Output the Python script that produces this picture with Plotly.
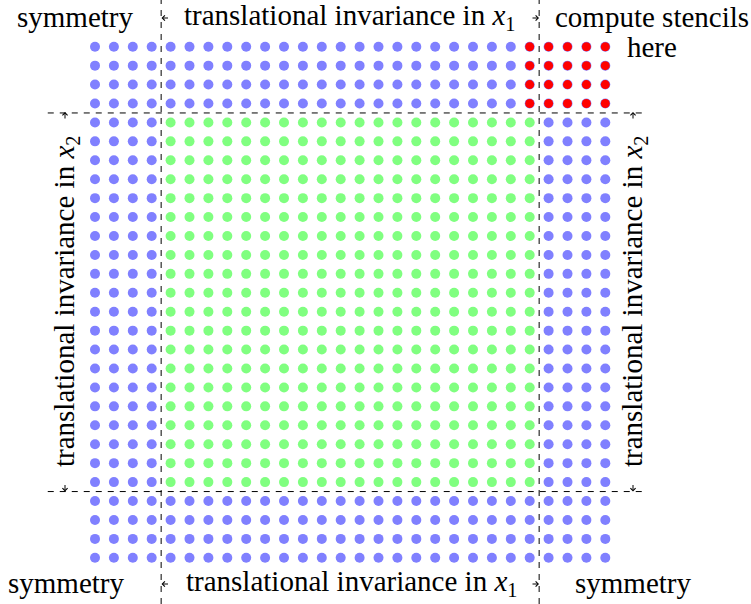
import plotly.graph_objects as go

# ---- grid description ----
n_cols = 28
n_rows = 28
inner_col_start = 4      # first column of translational-invariance (green) block
inner_col_end = 24       # one past the last green column
inner_row_start = 4
inner_row_end = 24
red_cols = [23, 24, 25, 26, 27]
red_rows = [0, 1, 2, 3]

blue_color = "#8080FF"
green_color = "#80FF80"
red_color = "#FF0000"

# labels
lab_sym = "symmetry"
lab_ti_x1 = "translational invariance in <i>x</i><sub>1</sub>"
lab_ti_x2 = "translational invariance in <i>x</i><sub>2</sub>"
lab_compute = "compute stencils"
lab_here = "here"

# ---- build point lists ----
bx, by, gx, gy, rx, ry = [], [], [], [], [], []
for r in range(n_rows):
    for c in range(n_cols):
        if inner_col_start <= c < inner_col_end and inner_row_start <= r < inner_row_end:
            gx.append(c); gy.append(r)
        else:
            bx.append(c); by.append(r)
for r in red_rows:
    for c in red_cols:
        rx.append(c); ry.append(r)

W, H = 751, 604
sx = 18.9
sy = 18.93
x_lo = -95 / sx
x_hi = x_lo + W / sx
y_lo = -46.7 / sy
y_hi = y_lo + H / sy

fig = go.Figure()
fig.add_trace(go.Scatter(x=bx, y=by, mode="markers",
                         marker=dict(size=10, color=blue_color, line=dict(width=0)),
                         hoverinfo="skip", showlegend=False))
fig.add_trace(go.Scatter(x=gx, y=gy, mode="markers",
                         marker=dict(size=10, color=green_color, line=dict(width=0)),
                         hoverinfo="skip", showlegend=False))
fig.add_trace(go.Scatter(x=rx, y=ry, mode="markers",
                         marker=dict(size=9, color=red_color, line=dict(width=0)),
                         hoverinfo="skip", showlegend=False))

dash = "6px,6px"
vx = [inner_col_start - 0.5, inner_col_end - 0.5]
hy = [inner_row_start - 0.5, inner_row_end - 0.5]
shapes = []
for v in vx:
    shapes.append(dict(type="line", xref="x", yref="paper", x0=v, x1=v, y0=0, y1=1,
                       line=dict(color="black", width=1, dash=dash)))
for h in hy:
    shapes.append(dict(type="line", xref="x", yref="y", x0=-2.5, x1=29.2, y0=h, y1=h,
                       line=dict(color="black", width=1, dash=dash)))

font = dict(family="Liberation Serif", size=29, color="black")


def px(p):
    return p / W


def py(p):
    return 1 - p / H


ann = []


def text(t, x, y, angle=0):
    ann.append(dict(text=t, x=px(x), y=py(y), xref="paper", yref="paper",
                    showarrow=False, font=font, textangle=angle,
                    xanchor="center", yanchor="middle"))


def arrow(x, y, dx, dy):
    # head at (x,y), tail offset (dx,dy) pixels
    ann.append(dict(text="", x=px(x), y=py(y), xref="paper", yref="paper",
                    showarrow=True, ax=dx, ay=dy, arrowhead=4, arrowsize=1,
                    arrowwidth=1, arrowcolor="black", standoff=0, startstandoff=0))


top_y = 17
bot_y = 583
text(lab_sym, 75, top_y)
text(lab_ti_x1, 349, top_y)
text(lab_compute, 652, top_y)
text(lab_here, 652, 47)
text(lab_sym, 65.5, bot_y)
text(lab_ti_x1, 351, bot_y)
text(lab_sym, 633, bot_y)
text(lab_ti_x2, 66, 302, -90)
text(lab_ti_x2, 634, 302, -90)

# arrows pointing at the dashed boundaries
arrow(161.5, 18, 8, 0)
arrow(539, 18, -8, 0)
arrow(161.5, 584, 8, 0)
arrow(539, 584, -8, 0)
arrow(65, 112, 0, 8)
arrow(65, 491.5, 0, -8)
arrow(633, 112, 0, 8)
arrow(633, 491.5, 0, -8)

fig.update_layout(
    width=W, height=H,
    margin=dict(l=0, r=0, t=0, b=0),
    paper_bgcolor="white", plot_bgcolor="white",
    xaxis=dict(range=[x_lo, x_hi], visible=False, fixedrange=True),
    yaxis=dict(range=[y_hi, y_lo], visible=False, fixedrange=True),
    shapes=shapes, annotations=ann,
)
fig.write_html("out.html", config={"displayModeBar": False},
               post_script="document.body.style.margin='0px';document.body.style.overflow='hidden';")
